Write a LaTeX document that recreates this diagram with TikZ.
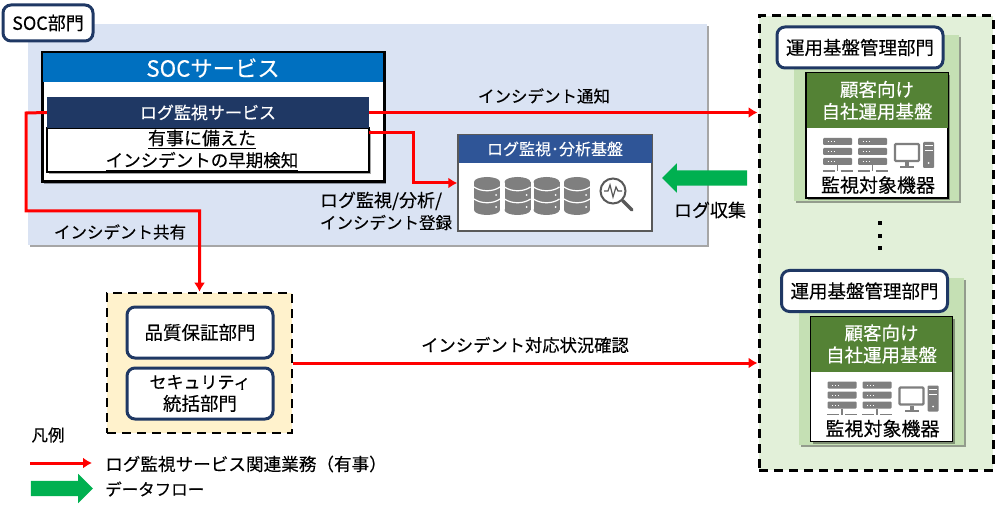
\documentclass[tikz,border=0pt]{standalone}
\usepackage{fontspec}
\setmainfont[FakeBold=0.25]{Noto Sans CJK JP}
\usetikzlibrary{arrows.meta,shadows,shapes.arrows}
\definecolor{socbg}{HTML}{DAE3F3}
\definecolor{navy}{HTML}{1F3864}
\definecolor{socblue}{HTML}{0070C0}
\definecolor{platblue}{HTML}{2F5597}
\definecolor{opsbg}{HTML}{E2F0D9}
\definecolor{deptbg}{HTML}{C5E0B4}
\definecolor{leaf}{HTML}{548235}
\definecolor{qabg}{HTML}{FFF2CC}
\definecolor{flow}{HTML}{00B050}
\definecolor{icon}{HTML}{7F7F7F}
\newcommand{\deptsize}{\fontsize{18.5}{22}\selectfont}
\tikzset{
  lbl/.style={inner sep=0pt,align=center,font=\fontsize{16.5}{22}\selectfont},
  shade/.style={drop shadow={shadow xshift=2pt,shadow yshift=-2pt,fill=black,opacity=.35}},
  panel/.style={inner sep=0pt,minimum width=#1},
  dept/.style={lbl,draw=navy,line width=3pt,fill=white,rounded corners=8pt,font=\deptsize},
  dashbox/.style={draw=black,line width=3pt,dash pattern=on 9pt off 6pt},
  redline/.style={draw=red,line width=3pt,-{Latex[length=9pt,width=11pt]}},
  flowarrow/.style={single arrow,fill=flow,inner xsep=0pt,inner ysep=7.5pt,
    single arrow head extend=7pt,single arrow tip angle=90},
  dbstack/.pic={
    \fill[icon] (-13,-14) rectangle (13,14);
    \fill[icon] (0,-14) ellipse [x radius=13,y radius=5];
    \fill[icon] (0,14) ellipse [x radius=13,y radius=5];
    \draw[white,line width=1.2pt] (-13,-9) .. controls (-6,-4) and (6,-4) .. (13,-9);
    \draw[white,line width=1.2pt] (-13,3) .. controls (-6,8) and (6,8) .. (13,3);
    \fill[white] (9,-1) circle [radius=1];
    \fill[white] (9,11) circle [radius=1];
  },
  rack/.pic={
    \fill[icon,rounded corners=1pt] (-14.5,-13) rectangle (14.5,-6);
    \fill[icon,rounded corners=1pt] (-14.5,-3) rectangle (14.5,4);
    \fill[icon,rounded corners=1pt] (-14.5,7) rectangle (14.5,14);
    \draw[white,line width=1pt,dash pattern=on 1pt off 2pt] (-10,-9.5) -- (-2,-9.5);
    \draw[white,line width=1pt,dash pattern=on 1pt off 2pt] (-10,.5) -- (-2,.5);
    \draw[white,line width=1pt,dash pattern=on 1pt off 2pt] (-10,10.5) -- (-2,10.5);
    \draw[icon,line width=1.2pt] (0,14) -- (0,20);
    \draw[icon,line width=1.2pt] (-15,20) -- (-3,20);
    \draw[icon,line width=1.2pt] (3,20) -- (15,20);
  },
  desktop/.pic={
    \draw[icon,line width=2.2pt,rounded corners=1pt] (-19,-11) rectangle (5,6);
    \fill[icon] (-9,7) rectangle (-5,11);
    \fill[icon] (-14,11) rectangle (0,13);
    \fill[icon,rounded corners=1pt] (9,-13) rectangle (20,13);
    \draw[white,line width=1pt] (10.5,-9) -- (18.5,-9);
    \draw[white,line width=1pt] (10.5,-4) -- (18.5,-4);
    \fill[white] (14.5,8) circle [radius=1];
  },
}
\begin{document}
\begin{tikzpicture}[x=1pt,y=-1pt]
  \useasboundingbox (0,0) rectangle (1000,510);

  \node[panel=679pt,minimum height=221pt,fill=socbg,shade] (soc) at (367.5,134.5) {};
  \node[dept,font=\fontsize{18}{22}\selectfont] (socname) at (48,23) [minimum width=90pt,minimum height=36pt] {SOC部門};

  \node[panel=342pt,minimum height=129pt,draw=black,line width=3pt,fill=white,shade] (svc) at (213,117.5) {};
  \node[panel=340pt,minimum height=29pt,fill=socblue,text=white,font=\fontsize{22.3}{26}\selectfont] (svchead) at (213,68) {SOCサービス};
  \node[panel=322pt,minimum height=44pt,draw=black,line width=1.2pt,fill=white,shade] (logbody) at (208,150) {};
  \node[lbl,font=\fontsize{17.5}{22}\selectfont] (risktext) at (202,150)
    {\underline{\fontsize{18}{22}\selectfont 有事に備えた}\\\underline{インシデントの早期検知}};
  \node[panel=322pt,minimum height=31pt,fill=navy,text=white,lbl,font=\fontsize{17}{22}\selectfont] (loghead) at (208,112.5) {ログ監視サービス};

  \node[panel=194pt,minimum height=96pt,draw=black!65,line width=1.5pt,fill=white] (plat) at (555,183) {};
  \node[panel=193pt,minimum height=28pt,fill=platblue,text=white,font=\fontsize{16}{18}\selectfont] (plathead) at (555,149) {ログ監視･分析基盤};
  \pic at (487,196) {dbstack};
  \pic at (517.5,196) {dbstack};
  \pic at (546.5,196) {dbstack};
  \pic at (577,196) {dbstack};
  \draw[black!65,line width=2pt] (613,191) circle [radius=12.5];
  \draw[black!65,line width=1.2pt] (604,191) -- (608,191) -- (610,185) -- (613,197) -- (616,187) -- (618,191) -- (622,191);
  \draw[black!65,line width=3.5pt,line cap=round] (622.5,200.5) -- (632,210);

  \node[flowarrow,minimum height=85pt,shape border rotate=180] (logflow) at (708.5,178) {};
  \node[lbl,font=\fontsize{18}{22}\selectfont] (logcollect) at (710,210) {ログ収集};
  \node[lbl,align=left] (regtext) at (386,211) {{\fontsize{18}{22}\selectfont ログ監視/分析/}\\インシデント登録};
  \node[lbl] (noticetext) at (544,96) {インシデント通知};
  \node[lbl] (sharetext) at (120,232) {インシデント共有};

  \node[dashbox,panel=234pt,minimum height=454pt,fill=opsbg] (ops) at (876,243) {};

  \begin{scope}
    \node[panel=165pt,minimum height=166pt,fill=deptbg,shade] (site) at (876.5,118) {};
    \node[panel=142pt,minimum height=125pt,draw=black,line width=1.5pt,fill=white,shade] (sitebox) at (877,135.5) {};
    \node[panel=141pt,minimum height=55pt,fill=leaf,text=white,lbl,font=\deptsize] (sitehead) at (877,100.5) {顧客向け\\自社運用基盤};
    \node[dept] (sitename) at (860,47.5) [minimum width=166pt,minimum height=41pt] {運用基盤管理部門};
    \pic at (837.5,151) {rack};
    \pic at (872.5,151) {rack};
    \pic at (914,155) {desktop};
    \node[lbl,font=\fontsize{19}{22}\selectfont] (target) at (878,185) {監視対象機器};
  \end{scope}
  \begin{scope}[shift={(4.5,243.5)}]
    \node[panel=165pt,minimum height=166pt,fill=deptbg,shade] (site) at (876.5,118) {};
    \node[panel=142pt,minimum height=125pt,draw=black,line width=1.5pt,fill=white,shade] (sitebox) at (877,135.5) {};
    \node[panel=141pt,minimum height=55pt,fill=leaf,text=white,lbl,font=\deptsize] (sitehead) at (877,100.5) {顧客向け\\自社運用基盤};
    \node[dept] (sitename) at (860,47.5) [minimum width=166pt,minimum height=41pt] {運用基盤管理部門};
    \pic at (837.5,151) {rack};
    \pic at (872.5,151) {rack};
    \pic at (914,155) {desktop};
    \node[lbl,font=\fontsize{19}{22}\selectfont] (target) at (878,185) {監視対象機器};
  \end{scope}
  \fill (878,221) rectangle (882,225);
  \fill (878,234) rectangle (882,238);
  \fill (878,246) rectangle (882,250);

  \node[dashbox,panel=185pt,minimum height=140pt,fill=qabg,line width=2.5pt] (qagroup) at (199.5,363) {};
  \node[dept] (qa) at (200,332.5) [minimum width=146pt,minimum height=51pt] {品質保証部門};
  \node[dept] (sec) at (200,393.5) [minimum width=146pt,minimum height=51pt] {{\fontsize{17}{22}\selectfont セキュリティ}\\統括部門};
  \node[lbl,font=\fontsize{17.3}{22}\selectfont] (statustext) at (525,345) {インシデント対応状況確認};

  \coordinate (shareleft) at (26,113);
  \coordinate (sharelow) at (26,211);
  \coordinate (regbend) at (413,133);
  \draw[redline] (loghead.west) -- (shareleft) -- (sharelow) -| (qagroup.north);
  \draw[redline] (loghead.east) -- (loghead.east -| ops.west);
  \draw[redline] (loghead.east |- regbend) -- (regbend) |- (plat.west);
  \draw[redline] (qagroup.east) -- (qagroup.east -| ops.west);

  \node[lbl] (legend) at (48,435) {凡例};
  \coordinate (legfrom) at (30,463);
  \coordinate (legto) at (92,463);
  \draw[redline] (legfrom) -- (legto);
  \node[lbl,anchor=west,font=\fontsize{17.6}{22}\selectfont] (legred) at (105,464) {ログ監視サービス関連業務（有事）};
  \node[flowarrow,minimum height=62pt] (legflow) at (58,488.5) {};
  \node[lbl,anchor=west] (leggreen) at (105,489) {データフロー};
\end{tikzpicture}
\end{document}
